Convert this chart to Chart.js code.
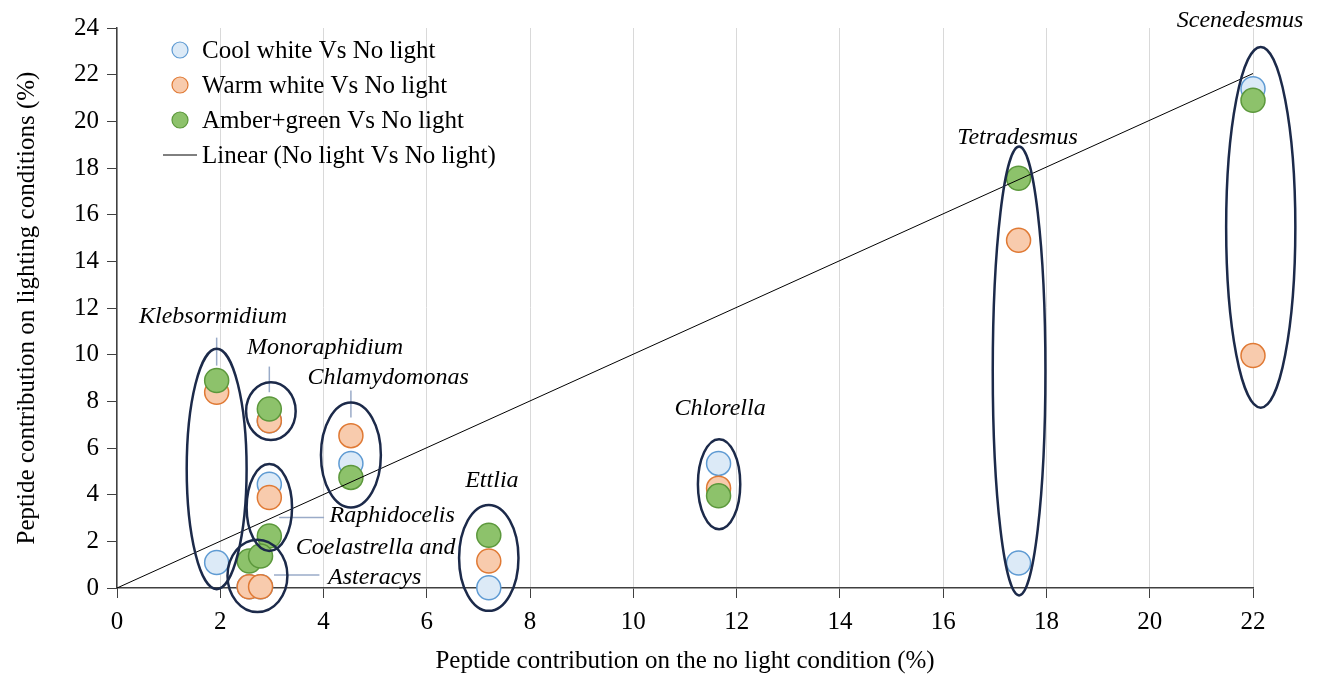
<!DOCTYPE html>
<html>
<head>
<meta charset="utf-8">
<script src="https://cdn.jsdelivr.net/npm/chart.js"></script>
<style>
  html, body { margin: 0; padding: 0; background: #fff; }
  #wrap { width: 1320px; height: 676px; }
</style>
</head>
<body>
<div id="wrap"><canvas id="peptideChart" width="1320" height="676"></canvas></div>
<script>
// values (%)
const genera = ["Klebsormidium", "Monoraphidium", "Raphidocelis", "Coelastrella", "Asteracys",
  "Chlamydomonas", "Ettlia", "Chlorella", "Tetradesmus", "Scenedesmus"];
const noLight = [1.93, 2.95, 2.95, 2.56, 2.78, 4.53, 7.2, 11.65, 17.46, 22.0];
const coolWhite = [1.09, 7.17, 4.45, 0.05, 0.05, 5.34, 0.01, 5.34, 1.07, 21.4];
const warmWhite = [8.39, 7.17, 3.88, 0.05, 0.05, 6.53, 1.16, 4.28, 14.9, 9.96];
const amberGreen = [8.89, 7.67, 2.23, 1.16, 1.37, 4.74, 2.26, 3.95, 17.56, 20.9];
const trendX = [0, 22];
const trendY = [0, 22.05];

const xTicks = [0, 2, 4, 6, 8, 10, 12, 14, 16, 18, 20, 22];
const yTicks = [0, 2, 4, 6, 8, 10, 12, 14, 16, 18, 20, 22, 24];

// groups circled in the figure: centre and half-widths in axis units
const rings = [
  { x: 1.93, y: 5.1, rx: 0.58, ry: 5.15 },
  { x: 2.98, y: 7.58, rx: 0.48, ry: 1.24 },
  { x: 2.95, y: 3.45, rx: 0.44, ry: 1.86 },
  { x: 2.72, y: 0.52, rx: 0.58, ry: 1.55 },
  { x: 4.53, y: 5.7, rx: 0.58, ry: 2.25 },
  { x: 7.2, y: 1.29, rx: 0.575, ry: 2.27 },
  { x: 11.66, y: 4.45, rx: 0.41, ry: 1.93 },
  { x: 17.47, y: 9.3, rx: 0.51, ry: 9.62 },
  { x: 22.15, y: 15.46, rx: 0.67, ry: 7.73 }
];

const names = [
  { text: "Klebsormidium", x: 1.86, y: 11.64 },
  { text: "Monoraphidium", x: 4.03, y: 10.32 },
  { text: "Chlamydomonas", x: 5.25, y: 9.03 },
  { text: "Raphidocelis", x: 5.33, y: 3.09 },
  { text: "Coelastrella and", x: 5.01, y: 1.73 },
  { text: "Asteracys", x: 4.99, y: 0.44 },
  { text: "Ettlia", x: 7.26, y: 4.59 },
  { text: "Chlorella", x: 11.68, y: 7.67 },
  { text: "Tetradesmus", x: 17.44, y: 19.28 },
  { text: "Scenedesmus", x: 21.75, y: 24.32 }
];

const leaders = [
  [1.93, 10.73, 1.93, 9.53],
  [2.95, 9.49, 2.95, 8.39],
  [4.53, 8.46, 4.53, 7.31],
  [3.14, 3.02, 4.01, 3.02],
  [3.04, 0.56, 3.92, 0.56]
];

const serif = '"Liberation Serif", "Times New Roman", serif';

function pts(ys) {
  return noLight.map((x, i) => ({ x: x, y: ys[i] }));
}

const extras = {
  id: "extras",
  afterDatasetsDraw(chart) {
    const ctx = chart.ctx;
    const sx = chart.scales.x, sy = chart.scales.y;
    const ux = sx.getPixelForValue(1) - sx.getPixelForValue(0);
    const uy = sy.getPixelForValue(0) - sy.getPixelForValue(1);
    ctx.save();
    // leader lines
    ctx.strokeStyle = "#9aabc8";
    ctx.lineWidth = 1.5;
    leaders.forEach(l => {
      ctx.beginPath();
      ctx.moveTo(sx.getPixelForValue(l[0]), sy.getPixelForValue(l[1]));
      ctx.lineTo(sx.getPixelForValue(l[2]), sy.getPixelForValue(l[3]));
      ctx.stroke();
    });
    // ellipses
    ctx.strokeStyle = "#1c2a4a";
    ctx.lineWidth = 2.5;
    rings.forEach(r => {
      ctx.beginPath();
      ctx.ellipse(sx.getPixelForValue(r.x), sy.getPixelForValue(r.y), r.rx * ux, r.ry * uy, 0, 0, Math.PI * 2);
      ctx.stroke();
    });
    // genus names
    ctx.fillStyle = "#000";
    ctx.font = "italic 24px " + serif;
    ctx.textAlign = "center";
    ctx.textBaseline = "middle";
    names.forEach(n => {
      ctx.fillText(n.text, sx.getPixelForValue(n.x), sy.getPixelForValue(n.y));
    });
    ctx.restore();
  },
  afterDraw(chart) {
    const ctx = chart.ctx;
    const ds = chart.data.datasets;
    ctx.save();
    ctx.font = "25px " + serif;
    ctx.textAlign = "left";
    ctx.textBaseline = "middle";
    const rowY = [50, 85, 120, 155];
    [0, 1, 2].forEach(i => {
      ctx.beginPath();
      ctx.arc(180, rowY[i], 8, 0, Math.PI * 2);
      ctx.fillStyle = ds[i].backgroundColor;
      ctx.fill();
      ctx.lineWidth = 1.2;
      ctx.strokeStyle = ds[i].borderColor;
      ctx.stroke();
      ctx.fillStyle = "#000";
      ctx.fillText(ds[i].label, 202, rowY[i] + 1);
    });
    ctx.beginPath();
    ctx.moveTo(163, rowY[3]);
    ctx.lineTo(197, rowY[3]);
    ctx.lineWidth = 1;
    ctx.strokeStyle = "#000";
    ctx.stroke();
    ctx.fillStyle = "#000";
    ctx.fillText(ds[3].label, 202, rowY[3] + 1);
    ctx.restore();
  }
};

const marker = (fill, edge, order) => ({
  backgroundColor: fill,
  borderColor: edge,
  borderWidth: 1.5,
  pointRadius: 12,
  pointHoverRadius: 12,
  clip: false,
  order: order
});

new Chart(document.getElementById("peptideChart").getContext("2d"), {
  type: "scatter",
  data: {
    datasets: [
      Object.assign({ label: "Cool white Vs No light", data: pts(coolWhite) }, marker("#dceaf7", "#5f9bd3", 3)),
      Object.assign({ label: "Warm white Vs No light", data: pts(warmWhite) }, marker("#f8cbad", "#e07a35", 2)),
      Object.assign({ label: "Amber+green Vs No light", data: pts(amberGreen) }, marker("#8dc26b", "#5c983c", 1)),
      {
        type: "line",
        label: "Linear (No light Vs No light)",
        data: trendX.map((x, i) => ({ x: x, y: trendY[i] })),
        borderColor: "#000",
        backgroundColor: "#000",
        borderWidth: 1,
        pointRadius: 0,
        clip: false,
        order: 0
      }
    ]
  },
  options: {
    responsive: false,
    devicePixelRatio: 1,
    animation: false,
    layout: { padding: { top: 28, right: 67, left: 12, bottom: 0 } },
    plugins: { legend: { display: false }, tooltip: { enabled: false } },
    scales: {
      x: {
        type: "linear",
        min: 0,
        max: 22,
        afterBuildTicks: axis => { axis.ticks = xTicks.map(v => ({ value: v })); },
        ticks: { color: "#000", font: { family: serif, size: 25 }, padding: 9 },
        grid: { color: "#d9d9d9", lineWidth: 1, tickColor: "#404040", tickLength: 10 },
        border: { color: "#404040", width: 1.5 },
        title: {
          display: true,
          text: "Peptide contribution on the no light condition (%)",
          color: "#000",
          font: { family: serif, size: 25 },
          padding: { top: 0, bottom: 0 }
        }
      },
      y: {
        type: "linear",
        min: 0,
        max: 24,
        afterBuildTicks: axis => { axis.ticks = yTicks.map(v => ({ value: v })); },
        ticks: { color: "#000", font: { family: serif, size: 25 }, padding: 8 },
        grid: { drawOnChartArea: false, tickColor: "#404040", tickLength: 10 },
        border: { color: "#404040", width: 1.5 },
        title: {
          display: true,
          text: "Peptide contribution on lighting conditions (%)",
          color: "#000",
          font: { family: serif, size: 25 },
          padding: { top: 0, bottom: 24 }
        }
      }
    }
  },
  plugins: [extras]
});
</script>
</body>
</html>
